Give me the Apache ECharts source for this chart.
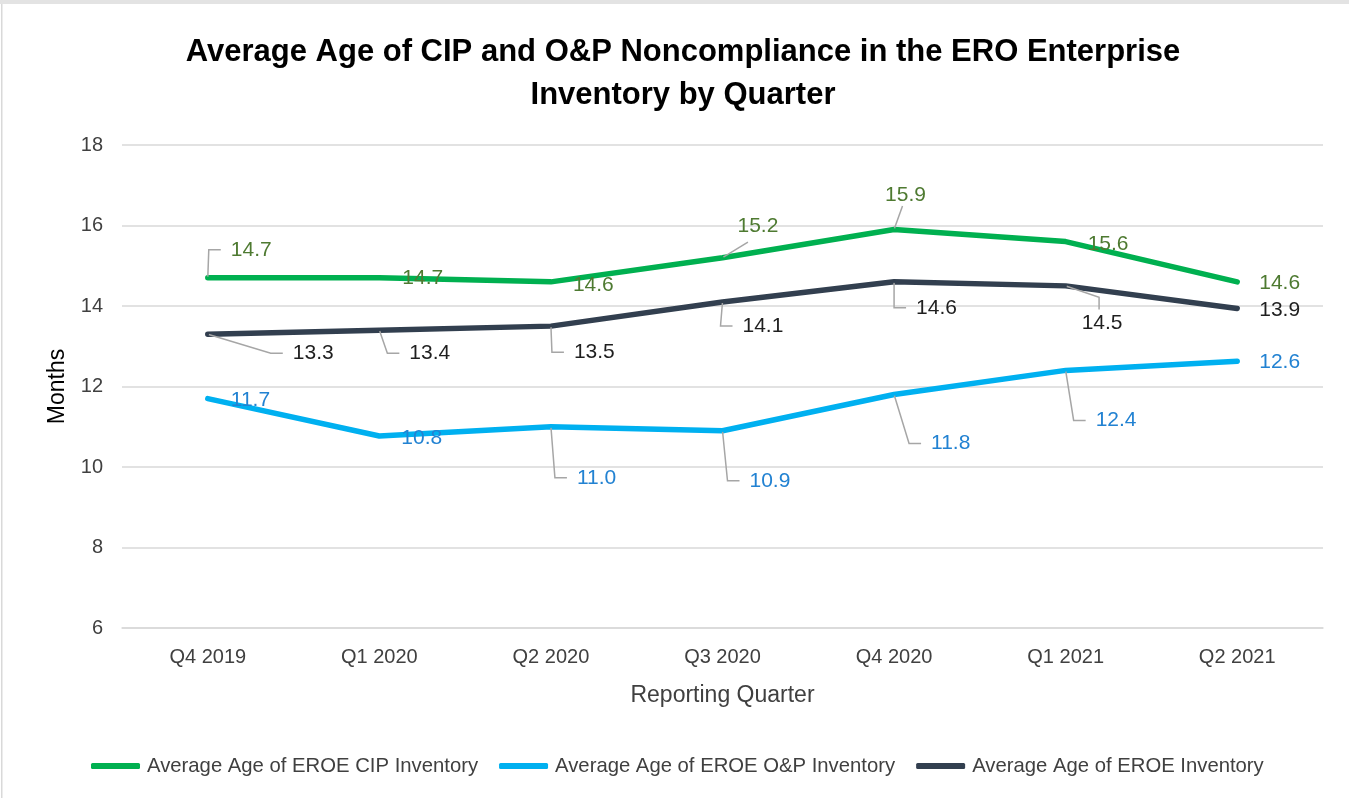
<!DOCTYPE html>
<html>
<head>
<meta charset="utf-8">
<script src="https://cdn.jsdelivr.net/npm/echarts@6/dist/echarts.min.js"></script>
<style>
  html, body { margin: 0; padding: 0; background: #ffffff; }
  #chart { width: 1349px; height: 798px; }
</style>
</head>
<body>
<div id="chart"></div>
<script>
// ---- Data ----
const quarters = ['Q4 2019', 'Q1 2020', 'Q2 2020', 'Q3 2020', 'Q4 2020', 'Q1 2021', 'Q2 2021'];
const cipAge = [14.7, 14.7, 14.6, 15.2, 15.9, 15.6, 14.6];
const opAge = [11.7, 10.77, 11.0, 10.9, 11.8, 12.4, 12.63];
const eroeAge = [13.3, 13.4, 13.5, 14.1, 14.6, 14.5, 13.94];
const seriesNames = ['Average Age of EROE CIP Inventory', 'Average Age of EROE O&P Inventory', 'Average Age of EROE Inventory'];
const yTicks = { min: 6, max: 18, interval: 2 };

// ---- Label placement (offset of text left edge / middle from its point) ----
const labelOffsets = [
  [[23, -28], [23, 0], [22, 3], [15, -34], [-9, -34], [22, 3], [22, 1]],
  [[23, 2], [22, 2], [26, 51], [27, 50], [37, 49], [30, 50], [22, 1]],
  [[85, 19], [30, 23], [23, 26], [20, 24], [22, 26], [16, 37], [22, 2]]
];
const showLeader = [
  [true, false, false, true, true, false, false],
  [false, false, true, true, true, true, false],
  [true, true, true, true, true, true, false]
];
const leaderLen2 = [
  [12, 12, 12, 0, 0, 12, 12],
  [12, 12, 12, 12, 12, 12, 12],
  [12, 12, 12, 12, 12, 12, 12]
];
const DEFAULT_PAD = [0, 4, 0, 10];
// special label box paddings (chooses which side the leader attaches to)
const specialPads = {
  '0-3': [3, 10, 8, 30],
  '2-5': [3, 4, 3, 10]
};
const lineColors = ['#00B050', '#00B0F0', '#323F4F'];
const labelColors = ['#4E7A31', '#2282D2', '#1F1F1F'];
const FONT = 'Liberation Sans';

function padOf(s, i) {
  return specialPads[s + '-' + i] || DEFAULT_PAD;
}

function buildData(values, s) {
  return values.map((v, i) => ({
    value: v,
    label: { padding: padOf(s, i) },
    labelLine: { show: showLeader[s][i], length2: leaderLen2[s][i] }
  }));
}

function makeSeries(values, s) {
  return {
    name: seriesNames[s],
    type: 'line',
    data: buildData(values, s),
    symbol: 'circle',
    symbolSize: 2,
    showSymbol: true,
    lineStyle: { color: lineColors[s], width: 5.5, cap: 'round', join: 'round' },
    itemStyle: { color: lineColors[s] },
    label: {
      show: true,
      position: 'right',
      fontFamily: FONT,
      fontSize: 21,
      color: labelColors[s],
      backgroundColor: 'rgba(255,255,255,0)',
      padding: DEFAULT_PAD,
      formatter: p => Number(p.value).toFixed(1)
    },
    labelLine: {
      show: true,
      length2: 12,
      lineStyle: { color: '#A6A6A6', width: 1.5 }
    },
    labelLayout: function (params) {
      const s = params.seriesIndex, i = params.dataIndex;
      const off = labelOffsets[s][i];
      const pad = padOf(s, i);
      const cx = params.rect.x + params.rect.width / 2;
      const cy = params.rect.y + params.rect.height / 2;
      return {
        x: cx + off[0] - pad[3],
        y: cy + off[1] - (pad[0] - pad[2]) / 2,
        align: 'left',
        verticalAlign: 'middle'
      };
    },
    emphasis: { disabled: true },
    animation: false,
    z: 3 - s
  };
}

const chart = echarts.init(document.getElementById('chart'), null, { renderer: 'canvas' });
chart.setOption({
  backgroundColor: '#ffffff',
  animation: false,
  title: {
    text: 'Average Age of CIP and O&P Noncompliance in the ERO Enterprise\nInventory by Quarter',
    left: 678,
    textAlign: 'center',
    top: 26,
    textStyle: {
      fontFamily: FONT,
      fontWeight: 'bold',
      fontSize: 31,
      lineHeight: 43,
      color: '#000000'
    }
  },
  graphic: [
    { type: 'rect', shape: { x: 0, y: 0, width: 1349, height: 4 }, style: { fill: '#E3E3E3' }, silent: true },
    { type: 'rect', shape: { x: 1, y: 4, width: 1.5, height: 794 }, style: { fill: '#D9D9D9' }, silent: true }
  ],
  legend: {
    bottom: 22,
    left: 91,
    padding: 0,
    itemWidth: 49,
    itemHeight: 6,
    itemGap: 21,
    icon: 'roundRect',
    textStyle: { fontFamily: FONT, fontSize: 20.3, color: '#404040', padding: [0, 0, 0, 2] },
    data: seriesNames
  },
  grid: { left: 122, right: 26, top: 145, bottom: 170, containLabel: false },
  xAxis: {
    type: 'category',
    data: quarters,
    boundaryGap: true,
    name: 'Reporting Quarter',
    nameLocation: 'middle',
    nameGap: 56,
    nameTextStyle: { fontFamily: FONT, fontSize: 23, color: '#404040' },
    axisLine: { show: true, lineStyle: { color: '#D9D9D9', width: 1.5 } },
    axisTick: { show: false },
    axisLabel: { fontFamily: FONT, fontSize: 20, color: '#404040', margin: 19 }
  },
  yAxis: {
    type: 'value',
    min: yTicks.min,
    max: yTicks.max,
    interval: yTicks.interval,
    name: 'Months',
    nameLocation: 'middle',
    nameGap: 53,
    nameRotate: 90,
    nameTextStyle: { fontFamily: FONT, fontSize: 23, color: '#000000' },
    axisLine: { show: false },
    axisTick: { show: false },
    axisLabel: { fontFamily: FONT, fontSize: 20, color: '#404040', margin: 19 },
    splitLine: { lineStyle: { color: '#D9D9D9', width: 1.5 } }
  },
  series: [
    makeSeries(cipAge, 0),
    makeSeries(opAge, 1),
    makeSeries(eroeAge, 2)
  ]
});
</script>
</body>
</html>
